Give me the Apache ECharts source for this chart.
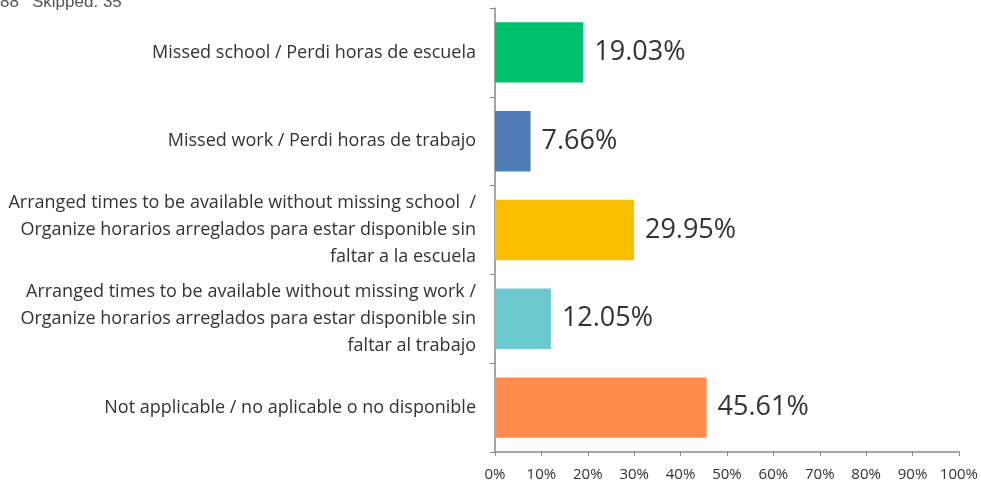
<!DOCTYPE html>
<html>
<head>
<meta charset="utf-8">
<script src="https://cdn.jsdelivr.net/npm/echarts@6/dist/echarts.min.js"></script>
<style>
html,body{margin:0;padding:0;background:#fff;}
#chart{width:981px;height:482px;}
</style>
</head>
<body>
<div id="chart"></div>
<script>
const categories = [
  "Missed school / Perdi horas de escuela",
  "Missed work / Perdi horas de trabajo",
  "Arranged times to be available without missing school  /\nOrganize horarios arreglados para estar disponible sin\nfaltar a la escuela",
  "Arranged times to be available without missing work /\nOrganize horarios arreglados para estar disponible sin\nfaltar al trabajo",
  "Not applicable / no aplicable o no disponible"
];
const values = [19.03, 7.66, 29.95, 12.05, 45.61];
const colors = ["#00BF6F", "#507CB6", "#F9BE00", "#6BC8CD", "#FF8B4F"];
const xTicks = [0, 10, 20, 30, 40, 50, 60, 70, 80, 90, 100];
const answeredText = "Answered: 288";
const skippedText = "Skipped: 35";

const chart = echarts.init(document.getElementById('chart'), null, {renderer: 'canvas'});
chart.setOption({
  animation: false,
  graphic: [
    {type: 'text', x: 19, y: 11,
      style: {text: answeredText, fill: '#555', textAlign: 'right', textVerticalAlign: 'bottom',
        font: '17px "Liberation Sans", Arial, sans-serif'}},
    {type: 'text', x: 32, y: 11,
      style: {text: skippedText, fill: '#555', textAlign: 'left', textVerticalAlign: 'bottom',
        font: '17px "Liberation Sans", Arial, sans-serif'}}
  ],
  grid: {left: 495, right: 21, top: 8, bottom: 30, containLabel: false},
  xAxis: {
    type: 'value', min: xTicks[0], max: xTicks[xTicks.length - 1], interval: 10,
    axisLine: {show: true, lineStyle: {color: '#888', width: 1.5}},
    axisTick: {show: true, length: 4, inside: false, lineStyle: {color: '#888'}},
    splitLine: {show: false},
    axisLabel: {formatter: v => v + '%', color: '#333', fontSize: 15, margin: 15,
      fontFamily: '"Open Sans", sans-serif'}
  },
  yAxis: {
    type: 'category', data: categories, inverse: true,
    axisLine: {show: true, lineStyle: {color: '#888', width: 1.5}},
    axisTick: {show: true, length: 5, lineStyle: {color: '#888'}},
    axisLabel: {color: '#333', fontSize: 18, lineHeight: 27, margin: 19, align: 'right',
      fontFamily: '"Open Sans", sans-serif'}
  },
  series: [{
    type: 'bar',
    data: values.map((v, i) => ({value: v, itemStyle: {color: colors[i]}})),
    barWidth: '68%',
    label: {show: true, position: 'right', distance: 11, formatter: p => p.value.toFixed(2) + '%',
      color: '#333', fontSize: 27, fontFamily: '"Open Sans", sans-serif'}
  }]
});
</script>
</body>
</html>
